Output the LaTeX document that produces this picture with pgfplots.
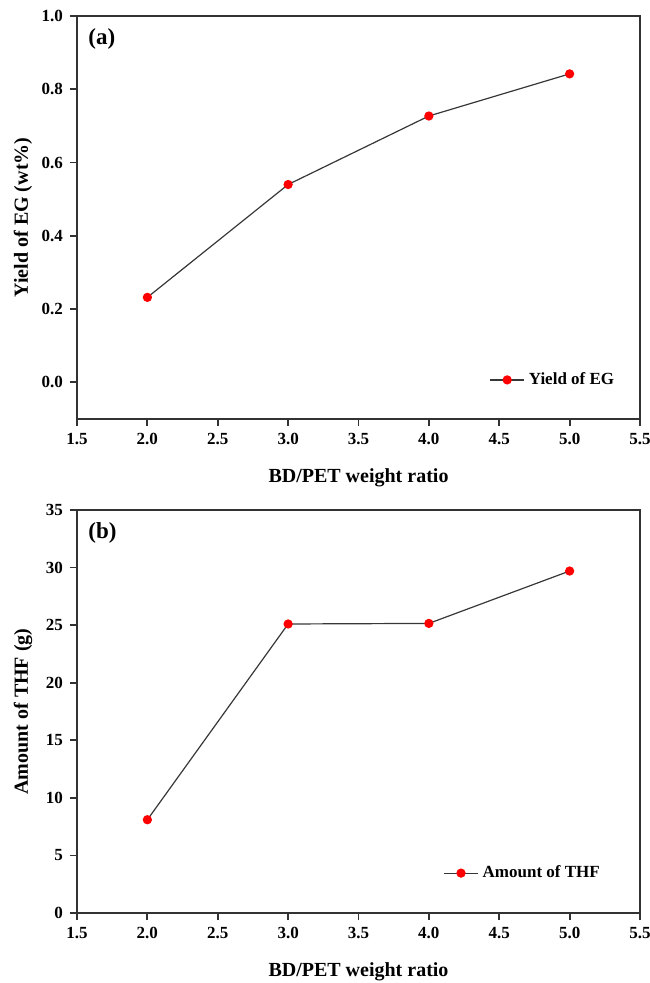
\documentclass[border=0pt]{standalone}
\usepackage{fontspec}
\setmainfont{Liberation Serif}
\usepackage{pgfplots}
\pgfplotsset{compat=1.18}

\definecolor{linegray}{RGB}{55,55,55}
\definecolor{axisgray}{RGB}{50,50,50}

\pgfplotsset{
  panel/.style={
    scale only axis, width=281.5pt, height=201.5pt,
    xmin=1.5, xmax=5.5,
    xtick={1.5,2.0,2.5,3.0,3.5,4.0,4.5,5.0,5.5},
    axis line style={axisgray, line width=0.9pt},
    tick style={axisgray, line width=0.9pt},
    major tick length=3.5pt,
    tick align=outside, xtick pos=lower, ytick pos=left,
    /pgf/number format/assume math mode=true,
    tick label style={font=\bfseries\fontsize{8.5}{10}\selectfont},
    xticklabel style={/pgf/number format/.cd, fixed, fixed zerofill, precision=1},
    label style={font=\bfseries\fontsize{10}{12}\selectfont},
    xlabel={BD/PET weight ratio},
    xlabel style={at={(axis description cs:0.5,-0.146)}, anchor=center},
    ylabel style={at={(axis description cs:-0.096,0.5)}, anchor=center},
    legend style={draw=none, fill=none, inner sep=0pt, anchor=west,
      font=\bfseries\fontsize{8.5}{10}\selectfont},
    legend cell align=left,
  },
  series/.style={linegray, line width=0.6pt, mark=*, mark size=2pt,
    mark options={draw=red, fill=red}},
}

\begin{document}
\begin{tikzpicture}
\path[use as bounding box] (-38.5pt,-282pt) rectangle (286pt,209.5pt);

% (a) yield of EG
\begin{axis}[panel,
  ymin=-0.1, ymax=1.0,
  ytick={0,0.2,0.4,0.6,0.8,1.0},
  yticklabel style={/pgf/number format/.cd, fixed, fixed zerofill, precision=1},
  ylabel={Yield of EG (wt\%)},
  legend style={at={(0.732,0.097)}},
]
\addplot[series] coordinates {(2,0.232) (3,0.54) (4,0.727) (5,0.842)};
\addlegendentry{Yield of EG}
\node[anchor=north west, inner sep=0pt, font=\bfseries\fontsize{11.5}{13}\selectfont]
  at (rel axis cs:0,1) [xshift=5.5pt, yshift=-6pt] {(a)};
\end{axis}

% (b) amount of THF
\begin{axis}[panel, at={(0,-247pt)},
  ymin=0, ymax=35,
  ytick={0,5,10,15,20,25,30,35},
  ylabel={Amount of THF (g)},
  legend style={at={(0.65,0.099)}},
]
\addplot[series] coordinates {(2,8.1) (3,25.1) (4,25.15) (5,29.7)};
\addlegendentry{Amount of THF}
\node[anchor=north west, inner sep=0pt, font=\bfseries\fontsize{11.5}{13}\selectfont]
  at (rel axis cs:0,1) [xshift=5.5pt, yshift=-6pt] {(b)};
\end{axis}
\end{tikzpicture}
\end{document}
